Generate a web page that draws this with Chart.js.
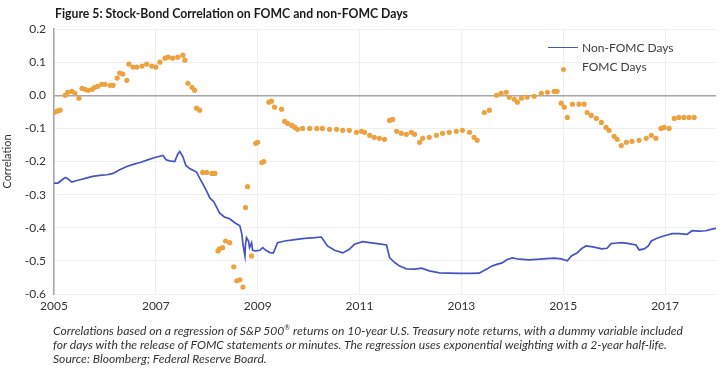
<!DOCTYPE html>
<html>
<head>
<meta charset="utf-8">
<script src="https://cdn.jsdelivr.net/npm/chart.js@4"></script>
<style>
    body { margin: 0; background: #fff; }
    #wrap { position: relative; width: 720px; height: 369px; overflow: hidden; }
    #chart { position: absolute; left: 0; top: 0; }
    .title {
        position: absolute; left: 55px; top: 5px;
        font: bold 13px Lato, sans-serif;
        color: #1a1a1a; white-space: nowrap; transform-origin: 0 0;
    }
    .legend {
        position: absolute; left: 548px; top: 38px;
        font: 12px Lato, sans-serif; color: #404040;
    }
    .legend div { height: 19px; line-height: 19px; white-space: nowrap; }
    .swatch { display: inline-block; width: 30px; vertical-align: middle; margin-right: 4px; text-align: center; }
    .line-swatch { border-top: 1.6px solid #4653C4; margin-top: -2px; }
    .dot-swatch span { display: inline-block; width: 5px; height: 5px; border-radius: 50%; background: #ECA33F; }
    .caption {
        position: absolute; left: 53px; top: 324px;
        font: italic 12px Lato, sans-serif;
        color: #333; line-height: 14px; white-space: nowrap; transform-origin: 0 0;
    }
    .caption div { display: block; }
</style>
</head>
<body>
<div id="wrap">
    <canvas id="chart" width="720" height="369"></canvas>
    <div class="title" id="title">Figure 5: Stock-Bond Correlation on FOMC and non-FOMC Days</div>
    <div class="legend">
        <div><span class="swatch line-swatch"></span>Non-FOMC Days</div>
        <div><span class="swatch dot-swatch"><span></span></span>FOMC Days</div>
    </div>
    <div class="caption" id="caption">
        <div><span id="capLine1">Correlations based on a regression of S&amp;P 500<sup style="font-size:7px; line-height:0">®</sup> returns on 10-year U.S. Treasury note returns, with a dummy variable included</span></div>
        <div>for days with the release of FOMC statements or minutes. The regression uses exponential weighting with a 2-year half-life.</div>
        <div>Source: Bloomberg; Federal Reserve Board.</div>
    </div>
</div>
<script>
// Stock-bond correlation, [year, correlation]
const xTicks = [2005, 2007, 2009, 2011, 2013, 2015, 2017];
const yTicks = [-0.6, -0.5, -0.4, -0.3, -0.2, -0.1, 0, 0.1, 0.2];

const nonFomcDays = [
    [2005.00, -0.265], [2005.08, -0.265], [2005.16, -0.255], [2005.22, -0.248], [2005.27, -0.252],
    [2005.35, -0.262], [2005.43, -0.258], [2005.51, -0.255], [2005.63, -0.250], [2005.76, -0.245],
    [2005.90, -0.242], [2006.04, -0.240], [2006.16, -0.236], [2006.29, -0.225], [2006.43, -0.215],
    [2006.57, -0.208], [2006.69, -0.203], [2006.84, -0.195], [2006.98, -0.188], [2007.14, -0.182],
    [2007.20, -0.195], [2007.27, -0.198], [2007.37, -0.200], [2007.43, -0.178], [2007.47, -0.170],
    [2007.53, -0.185], [2007.59, -0.212], [2007.67, -0.222], [2007.75, -0.228], [2007.80, -0.232],
    [2007.86, -0.250], [2007.92, -0.267], [2008.00, -0.290], [2008.06, -0.310], [2008.14, -0.322],
    [2008.20, -0.340], [2008.25, -0.355], [2008.35, -0.368], [2008.45, -0.373], [2008.55, -0.385],
    [2008.65, -0.394], [2008.69, -0.420], [2008.71, -0.450], [2008.75, -0.485], [2008.76, -0.450],
    [2008.78, -0.430], [2008.82, -0.440], [2008.84, -0.460], [2008.88, -0.445], [2008.90, -0.468],
    [2008.96, -0.470], [2009.04, -0.468], [2009.10, -0.460], [2009.16, -0.468], [2009.24, -0.475],
    [2009.31, -0.476], [2009.39, -0.445], [2009.53, -0.440], [2009.73, -0.436], [2009.92, -0.432],
    [2010.12, -0.430], [2010.25, -0.428], [2010.37, -0.455], [2010.51, -0.468], [2010.67, -0.476],
    [2010.80, -0.465], [2010.90, -0.450], [2011.06, -0.442], [2011.20, -0.445], [2011.35, -0.448],
    [2011.53, -0.452], [2011.59, -0.490], [2011.69, -0.505], [2011.78, -0.515], [2011.92, -0.524],
    [2012.08, -0.525], [2012.22, -0.522], [2012.37, -0.530], [2012.57, -0.536], [2012.76, -0.537],
    [2012.96, -0.538], [2013.16, -0.538], [2013.35, -0.537], [2013.49, -0.525], [2013.61, -0.515],
    [2013.71, -0.510], [2013.80, -0.506], [2013.90, -0.496], [2014.00, -0.491], [2014.14, -0.495],
    [2014.33, -0.497], [2014.53, -0.495], [2014.67, -0.493], [2014.82, -0.492], [2014.96, -0.494],
    [2015.08, -0.500], [2015.16, -0.485], [2015.27, -0.476], [2015.37, -0.462], [2015.45, -0.455],
    [2015.55, -0.457], [2015.65, -0.460], [2015.76, -0.464], [2015.86, -0.462], [2015.94, -0.448],
    [2016.06, -0.446], [2016.16, -0.445], [2016.29, -0.448], [2016.43, -0.452], [2016.49, -0.467],
    [2016.59, -0.464], [2016.67, -0.455], [2016.73, -0.440], [2016.82, -0.433], [2016.92, -0.427],
    [2017.04, -0.422], [2017.14, -0.418], [2017.27, -0.418], [2017.43, -0.420], [2017.53, -0.409],
    [2017.67, -0.410], [2017.80, -0.409], [2017.90, -0.405], [2018.00, -0.402]
];

const fomcDays = [
    [2005.00, -0.052], [2005.06, -0.048], [2005.12, -0.045], [2005.22, 0.000], [2005.27, 0.009],
    [2005.35, 0.012], [2005.41, 0.006], [2005.49, -0.009], [2005.55, 0.021], [2005.61, 0.018],
    [2005.67, 0.015], [2005.75, 0.018], [2005.80, 0.024], [2005.86, 0.027], [2005.94, 0.033],
    [2006.00, 0.033], [2006.10, 0.030], [2006.16, 0.030], [2006.24, 0.052], [2006.29, 0.067],
    [2006.35, 0.064], [2006.43, 0.045], [2006.47, 0.094], [2006.55, 0.085], [2006.63, 0.085],
    [2006.73, 0.088], [2006.82, 0.094], [2006.92, 0.088], [2007.00, 0.085], [2007.08, 0.100],
    [2007.18, 0.112], [2007.24, 0.115], [2007.33, 0.112], [2007.43, 0.115], [2007.53, 0.121],
    [2007.57, 0.106], [2007.63, 0.036], [2007.71, 0.024], [2007.76, 0.015], [2007.80, -0.039],
    [2007.86, -0.045], [2007.92, -0.233], [2008.00, -0.233], [2008.10, -0.236], [2008.16, -0.236],
    [2008.22, -0.470], [2008.25, -0.464], [2008.31, -0.460], [2008.37, -0.440], [2008.45, -0.445],
    [2008.53, -0.518], [2008.59, -0.560], [2008.65, -0.557], [2008.71, -0.579], [2008.76, -0.339],
    [2008.80, -0.276], [2008.88, -0.485], [2008.96, -0.145], [2009.00, -0.142], [2009.08, -0.203],
    [2009.12, -0.200], [2009.22, -0.021], [2009.27, -0.018], [2009.33, -0.036], [2009.47, -0.042],
    [2009.53, -0.079], [2009.59, -0.085], [2009.67, -0.091], [2009.73, -0.097], [2009.78, -0.103],
    [2009.88, -0.100], [2010.02, -0.100], [2010.16, -0.100], [2010.27, -0.100], [2010.41, -0.103],
    [2010.55, -0.103], [2010.67, -0.106], [2010.80, -0.106], [2010.94, -0.112], [2011.04, -0.109],
    [2011.10, -0.112], [2011.20, -0.121], [2011.29, -0.127], [2011.39, -0.130], [2011.49, -0.133],
    [2011.59, -0.076], [2011.65, -0.073], [2011.73, -0.109], [2011.82, -0.115], [2011.92, -0.118],
    [2012.02, -0.112], [2012.08, -0.118], [2012.18, -0.142], [2012.24, -0.130], [2012.37, -0.127],
    [2012.51, -0.121], [2012.63, -0.115], [2012.76, -0.112], [2012.90, -0.109], [2013.02, -0.106],
    [2013.16, -0.112], [2013.25, -0.127], [2013.31, -0.136], [2013.45, -0.052], [2013.55, -0.045],
    [2013.69, 0.000], [2013.78, 0.006], [2013.88, 0.009], [2013.94, -0.006], [2014.04, -0.012],
    [2014.10, -0.021], [2014.18, -0.009], [2014.29, -0.006], [2014.43, -0.003], [2014.57, 0.006],
    [2014.69, 0.009], [2014.82, 0.012], [2014.88, 0.012], [2014.96, -0.024], [2015.02, -0.036],
    [2015.08, -0.067], [2015.18, -0.027], [2015.31, -0.027], [2015.41, -0.027], [2015.47, -0.052],
    [2015.55, -0.061], [2015.65, -0.070], [2015.75, -0.082], [2015.84, -0.097], [2015.90, -0.106],
    [2016.00, -0.124], [2016.06, -0.133], [2016.14, -0.152], [2016.24, -0.142], [2016.35, -0.139],
    [2016.49, -0.136], [2016.63, -0.130], [2016.73, -0.121], [2016.82, -0.130], [2016.92, -0.100],
    [2016.98, -0.097], [2017.08, -0.100], [2017.18, -0.070], [2017.27, -0.067], [2017.37, -0.067],
    [2017.47, -0.067], [2017.57, -0.067]
];

const toPoints = arr => arr.map(p => ({ x: p[0], y: p[1] }));
const tickFont = { family: 'Lato, sans-serif', size: 12 };

// squeeze title and caption to the narrow typeface widths of the original
function fitWidth(el, measureEl, target) {
    const w = measureEl.getBoundingClientRect().width;
    el.style.transform = 'scaleX(' + (target / w) + ')';
}
fitWidth(document.getElementById('title'), document.getElementById('title'), 353);
fitWidth(document.getElementById('caption'), document.getElementById('capLine1'), 630);

new Chart(document.getElementById('chart'), {
    type: 'scatter',
    data: {
        datasets: [{
            label: 'Non-FOMC Days',
            type: 'line',
            data: toPoints(nonFomcDays),
            borderColor: '#4653C4',
            borderWidth: 1.7,
            pointRadius: 0,
            tension: 0,
            order: 1
        }, {
            label: 'FOMC Days',
            data: toPoints(fomcDays),
            backgroundColor: '#ECA33F',
            borderColor: '#ECA33F',
            pointRadius: 2.6,
            pointBorderWidth: 0,
            order: 2
        }]
    },
    options: {
        responsive: false,
        animation: false,
        layout: { padding: { left: 0, top: 29, right: 3, bottom: 55 } },
        plugins: {
            legend: { display: false },
            tooltip: { enabled: false }
        },
        scales: {
            x: {
                type: 'linear',
                min: 2005,
                max: 2018,
                afterBuildTicks: scale => { scale.ticks = xTicks.map(v => ({ value: v })); },
                afterFit: scale => { scale.height = 20; },
                border: { display: false },
                grid: { color: '#EFEFEF', drawTicks: false },
                ticks: {
                    padding: 5,
                    font: tickFont,
                    color: '#333',
                    maxRotation: 0,
                    callback: v => String(v)
                }
            },
            y: {
                min: -0.6,
                max: 0.2,
                afterBuildTicks: scale => { scale.ticks = yTicks.map(v => ({ value: v })); },
                afterFit: scale => { scale.width = 54; },
                border: { display: true, color: '#A6A6A6', width: 1.5 },
                grid: {
                    drawTicks: false,
                    color: ctx => Math.abs(ctx.tick.value) < 1e-9 ? '#A6A6A6' : '#EFEFEF',
                    lineWidth: ctx => Math.abs(ctx.tick.value) < 1e-9 ? 1.5 : 1
                },
                ticks: {
                    padding: 8,
                    font: tickFont,
                    color: '#333',
                    callback: v => Math.abs(v) < 1e-9 ? '0.0' : v.toFixed(1)
                },
                title: {
                    display: true,
                    text: 'Correlation',
                    font: { family: 'Lato, sans-serif', size: 11 },
                    color: '#333',
                    padding: { top: 1, bottom: 0 }
                }
            }
        }
    }
});
</script>
</body>
</html>
